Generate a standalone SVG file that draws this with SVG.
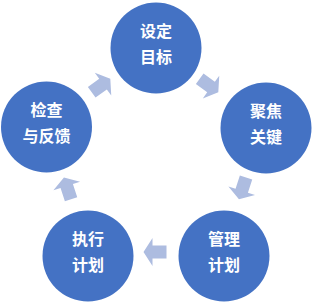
<svg xmlns="http://www.w3.org/2000/svg" width="313" height="302" viewBox="0 0 313 302">
<style>
.node{fill:#4472C4}
.lbl{fill:#fff;font-family:"Noto Sans CJK SC","Noto Sans",sans-serif;font-weight:bold;font-size:16px;text-anchor:middle}
.arr{fill:#ADBCE0}
</style>
<defs>
<polygon id="arrow" points="-11.5,-6.5 2.5,-6.5 2.5,-14 11.5,0 2.5,14 2.5,6.5 -11.5,6.5"/>
</defs>
<rect width="313" height="302" fill="#fff"/>
<g id="connectors">
<use href="#arrow" class="arr" transform="translate(209,85.6) rotate(36)"/>
<use href="#arrow" class="arr" transform="translate(242.5,188.4) rotate(108)"/>
<use href="#arrow" class="arr" transform="translate(155,252) rotate(180)"/>
<use href="#arrow" class="arr" transform="translate(67.5,188.4) rotate(252)"/>
<use href="#arrow" class="arr" transform="translate(101,85.6) rotate(324)"/>
</g>
<g id="n1">
<circle class="node" cx="156" cy="48" r="45.5"/>
<text class="lbl" x="156" y="37">设定</text>
<text class="lbl" x="156" y="63">目标</text>
</g>
<g id="n2">
<circle class="node" cx="266" cy="128" r="45.5"/>
<text class="lbl" x="266" y="117">聚焦</text>
<text class="lbl" x="266" y="143">关键</text>
</g>
<g id="n3">
<circle class="node" cx="224" cy="256" r="45.5"/>
<text class="lbl" x="224" y="245">管理</text>
<text class="lbl" x="224" y="271">计划</text>
</g>
<g id="n4">
<circle class="node" cx="88" cy="256" r="45.5"/>
<text class="lbl" x="88" y="245">执行</text>
<text class="lbl" x="88" y="271">计划</text>
</g>
<g id="n5">
<circle class="node" cx="46.5" cy="127" r="45.5"/>
<text class="lbl" x="46.5" y="116">检查</text>
<text class="lbl" x="46.5" y="142">与反馈</text>
</g>
</svg>
